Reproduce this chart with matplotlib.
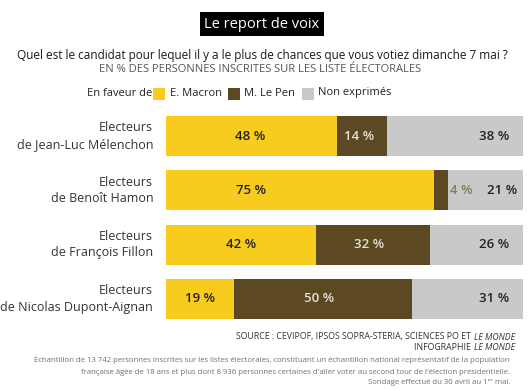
import matplotlib.pyplot as plt
from matplotlib.patches import Rectangle

plt.rcParams['font.family'] = ['Open Sans', 'DejaVu Sans']

groups = ["Electeurs\nde Jean-Luc Mélenchon", "Electeurs\nde Benoît Hamon",
          "Electeurs\nde François Fillon", "Electeurs\nde Nicolas Dupont-Aignan"]
macron = [48, 75, 42, 19]
lepen = [14, 4, 32, 50]
blank = [38, 21, 26, 31]
series_names = ["E. Macron", "M. Le Pen", "Non exprimés"]

YELLOW = "#F8CC1F"
BROWN = "#5C4823"
GREY = "#C9C9C9"

W, H = 532, 391
fig = plt.figure(figsize=(W / 100, H / 100), dpi=100)
fig.patch.set_facecolor("white")


def fx(x):
    return x / W


def fy(y):
    return 1 - y / H


ax = fig.add_axes([fx(166), fy(319), fx(357), 203 / H])
pos = list(range(len(groups)))
bh = 0.737
ax.barh(pos, macron, height=bh, color=YELLOW)
ax.barh(pos, lepen, left=macron, height=bh, color=BROWN)
left3 = [a + b for a, b in zip(macron, lepen)]
ax.barh(pos, blank, left=left3, height=bh, color=GREY)
ax.set_xlim(0, 100)
ax.set_ylim(1.5 + 203 / 54.3 / 2, 1.5 - 203 / 54.3 / 2)
ax.axis("off")

for i in pos:
    m, l, b = macron[i], lepen[i], blank[i]
    ax.text(min(23.7, m / 2), i, f"{m} %", ha="center", va="center",
            fontsize=9.5, color="#222222", fontweight="semibold")
    if l >= 10:
        ax.text(m + l / 2 - 1, i, f"{l} %", ha="center", va="center",
                fontsize=9.5, color="#E6E2D8", fontweight="semibold")
        ax.text(92, i, f"{b} %", ha="center", va="center",
                fontsize=9.5, color="#222222", fontweight="semibold")
    else:
        ax.text(m + l + 0.5, i, f"{l} %", ha="left", va="center",
                fontsize=9.5, color="#8A7A5A", fontweight="semibold")
        ax.text(94, i, f"{b} %", ha="center", va="center",
                fontsize=9.5, color="#222222", fontweight="semibold")
    ax.text(-3.6, i, groups[i], ha="right", va="center", fontsize=9,
            color="#333333", linespacing=1.35)

# title block
fig.text(fx(262), fy(24), "Le report de voix", ha="center", va="center",
         fontsize=10.5, color="white",
         bbox=dict(boxstyle="square,pad=0.32", fc="black", ec="none"))
fig.text(fx(262), fy(56),
         "Quel est le candidat pour lequel il y a le plus de chances que vous votiez dimanche 7 mai ?",
         ha="center", va="center", fontsize=8.45, color="#1A1A1A")
fig.text(fx(260), fy(70), "EN % DES PERSONNES INSCRITES SUR LES LISTE ÉLECTORALES",
         ha="center", va="center", fontsize=8.0, color="#555555")

# legend
fig.text(fx(87), fy(93), "En faveur de", ha="left", va="center",
         fontsize=8.0, color="#222222")
legend_boxes = [153, 228, 302]
legend_text = [170, 244, 318]
for name, col, bx, tx in zip(series_names, [YELLOW, BROWN, GREY], legend_boxes, legend_text):
    fig.patches.append(Rectangle((fx(bx), fy(100)), fx(12), 12 / H,
                                 transform=fig.transFigure, fc=col, ec="none"))
    fig.text(fx(tx), fy(93), name, ha="left", va="center",
             fontsize=8.0, color="#222222")

# source
fig.canvas.draw()
r = fig.canvas.get_renderer()
rx = fx(515)
for yy, plain, ital in [(337, "SOURCE : CEVIPOF, IPSOS SOPRA-STERIA, SCIENCES PO ET ", "LE MONDE"),
                        (348, "INFOGRAPHIE ", "LE MONDE")]:
    t = fig.text(rx, fy(yy), ital, ha="right", va="center", fontsize=6.3,
                 style="italic", color="#333333")
    bb = t.get_window_extent(r)
    fig.text(bb.x0 / fig.bbox.width - 0.002, fy(yy), plain, ha="right", va="center",
             fontsize=6.3, color="#333333")

notes = ["Echantillon de 13 742 personnes inscrites sur les listes électorales, constituant un échantillon national représentatif de la population",
         "française âgée de 18 ans et plus dont 8 936 personnes certaines d'aller voter au second tour de l'élection présidentielle.",
         "Sondage effectué du 30 avril au 1ᵉʳ mai."]
for yy, line in zip([361, 372, 382], notes):
    fig.text(fx(510), fy(yy), line, ha="right", va="center", fontsize=5.6,
             color="#707070")

fig.savefig("out.png", dpi=100, facecolor="white")
